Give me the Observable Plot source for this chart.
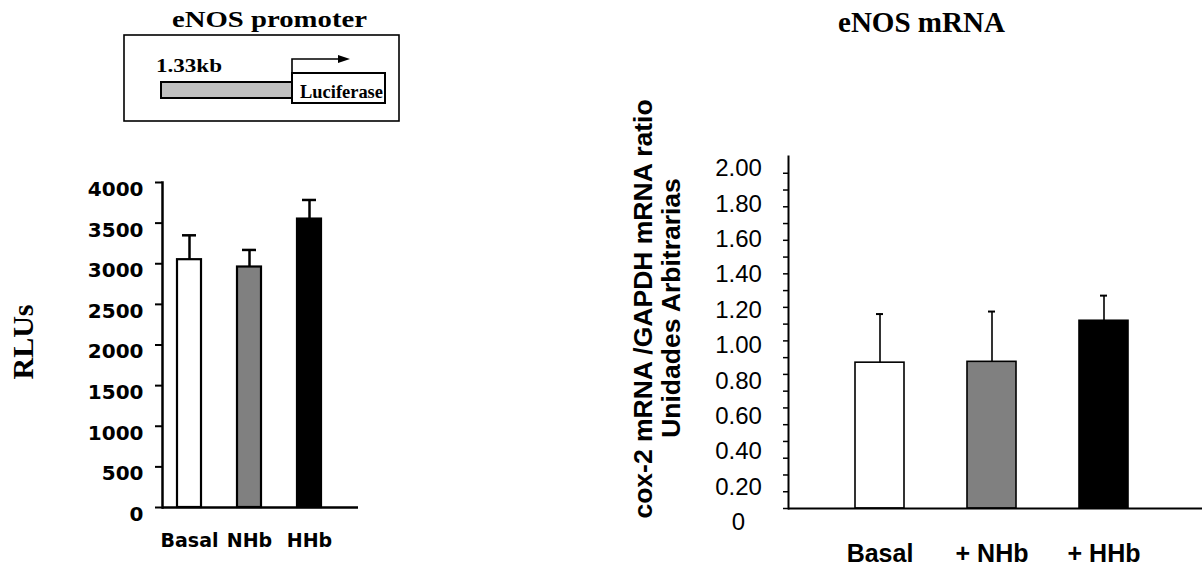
<!DOCTYPE html>
<html><head><meta charset="utf-8">
<script src="https://cdn.jsdelivr.net/npm/d3@7"></script>
<script src="https://cdn.jsdelivr.net/npm/@observablehq/plot@0.6"></script>
<style>
body{margin:0;background:#fff;}
#wrap{position:relative;width:1202px;height:568px;overflow:hidden;background:#fff;}
#wrap > svg{position:absolute;top:0;}
</style></head><body><div id="wrap"></div>
<script>
// ---- data: left panel (eNOS promoter, luciferase) ----
const promoterCategories = ["Basal", "NHb", "HHb"];
const promoterValues = [3050, 2960, 3550];
const promoterErrors = [300, 210, 235];
const promoterTicks = [0, 500, 1000, 1500, 2000, 2500, 3000, 3500, 4000];

// ---- data: right panel (eNOS mRNA) ----
const mrnaCategories = ["Basal", "+ NHb", "+ HHb"];
const mrnaValues = [0.87, 0.875, 1.12];
const mrnaErrors = [0.29, 0.30, 0.15];
const mrnaTickMarks = [0, 0.1, 0.2, 0.3, 0.4, 0.5, 0.6, 0.7, 0.8, 0.9, 1.0, 1.1, 1.2, 1.3, 1.4, 1.5, 1.6, 1.7, 1.8, 1.9, 2.0];
const mrnaLabelValues = [0, 0.2, 0.4, 0.6, 0.8, 1.0, 1.2, 1.4, 1.6, 1.8, 2.0];
const mrnaLabels = ["0", "0.20", "0.40", "0.60", "0.80", "1.00", "1.20", "1.40", "1.60", "1.80", "2.00"];

const barFills = ["white", "#808080", "black"];

const promoter = promoterCategories.map((c, i) => ({cat: c, v: promoterValues[i], top: promoterValues[i] + promoterErrors[i], fill: barFills[i]}));
const mrna = mrnaCategories.map((c, i) => ({cat: c, v: mrnaValues[i], top: mrnaValues[i] + mrnaErrors[i], fill: barFills[i]}));

const wrap = document.getElementById("wrap");

// ---- left plot ----
const left = Plot.plot({
  width: 380, height: 568,
  marginLeft: 162, marginRight: 22, marginTop: 182, marginBottom: 61,
  style: {background: "transparent", fontFamily: "DejaVu Sans", fontWeight: "bold", overflow: "visible", color: "black"},
  x: {domain: promoterCategories, range: [159, 339], paddingInner: 0.6, paddingOuter: 0.3},
  y: {domain: [0, 4000]},
  color: {type: "identity"},
  marks: [
    Plot.barY(promoter, {x: "cat", y: "v", fill: "fill", stroke: "black", strokeWidth: 2.2}),
    Plot.ruleX(promoter, {x: "cat", y1: "v", y2: "top", stroke: "black", strokeWidth: 2.5}),
    Plot.tickY(promoter, {x: "cat", y: "top", stroke: "black", strokeWidth: 2.5, insetLeft: 5, insetRight: 5}),
    Plot.axisY({ticks: promoterTicks, tickSize: 7, tickFormat: () => "", stroke: "black", strokeWidth: 2, label: null}),
    Plot.text(promoterTicks, {y: d => d, text: d => String(d), frameAnchor: "left", textAnchor: "end", dx: -19, dy: 7, fontSize: 20, fontWeight: "bold", fontFamily: "DejaVu Sans", fill: "black"}),
    Plot.axisX({tickSize: 0, tickPadding: 26, fontSize: 19, fontWeight: "bold", fontFamily: "DejaVu Sans", fill: "black", label: null}),
    Plot.ruleY([0], {stroke: "black", strokeWidth: 2.5}),
    Plot.frame({anchor: "left", stroke: "black", strokeWidth: 2.5})
  ]
});
left.style.left = "0px";
wrap.appendChild(left);

// ---- right plot ----
const right = Plot.plot({
  width: 602, height: 568,
  marginLeft: 188, marginRight: 0, marginTop: 156, marginBottom: 60,
  style: {background: "transparent", fontFamily: "Liberation Sans", overflow: "visible", color: "black"},
  x: {domain: mrnaCategories, range: [221, 561.5], paddingInner: 0.56, paddingOuter: 0.3},
  y: {domain: [0, 2.1]},
  color: {type: "identity"},
  marks: [
    Plot.barY(mrna, {x: "cat", y: "v", fill: "fill", stroke: "black", strokeWidth: 1.6}),
    Plot.ruleX(mrna, {x: "cat", y1: "v", y2: "top", stroke: "black", strokeWidth: 1.6}),
    Plot.tickY(mrna, {x: "cat", y: "top", stroke: "black", strokeWidth: 2, insetLeft: 21, insetRight: 21}),
    Plot.axisY({ticks: mrnaTickMarks, tickSize: 5, tickFormat: () => "", stroke: "black", strokeWidth: 1.5, label: null}),
    Plot.axisX({tickSize: 0, tickPadding: 36, fontSize: 25, fontWeight: "bold", fontFamily: "Liberation Sans", fill: "black", label: null}),
    Plot.ruleY([0], {stroke: "black", strokeWidth: 2}),
    Plot.frame({anchor: "left", stroke: "black", strokeWidth: 2})
  ]
});
right.style.left = "600px";
wrap.appendChild(right);

// ---- right tick labels (offset scale, as in the original) ----
const rightLabels = Plot.plot({
  width: 200, height: 568,
  marginLeft: 138, marginRight: 0, marginTop: 168, marginBottom: 46,
  style: {background: "transparent", fontFamily: "Liberation Sans", overflow: "visible", color: "black"},
  y: {domain: [0, 2], axis: null},
  marks: [
    Plot.text(mrnaLabelValues, {y: d => d, text: (d, i) => mrnaLabels[i], frameAnchor: "left", textAnchor: "middle", fontSize: 24, fontFamily: "Liberation Sans", fill: "black"})
  ]
});
rightLabels.style.left = "600px";
wrap.appendChild(rightLabels);

// ---- titles, construct diagram, rotated axis titles ----
const ns = "http://www.w3.org/2000/svg";
const over = document.createElementNS(ns, "svg");
over.setAttribute("width", 1202);
over.setAttribute("height", 568);
over.style.left = "0px";
over.style.pointerEvents = "none";
over.innerHTML = `
<g font-family="Liberation Serif, 'Times New Roman', serif" font-weight="bold" fill="black">
  <text x="172" y="27" font-size="23" textLength="195" lengthAdjust="spacingAndGlyphs">eNOS promoter</text>
  <text x="838" y="32" font-size="28.5" textLength="167" lengthAdjust="spacingAndGlyphs">eNOS mRNA</text>
  <text transform="translate(33,342) rotate(-90)" text-anchor="middle" font-size="30">RLUs</text>
</g>
<rect x="124" y="35" width="275" height="86" fill="none" stroke="black" stroke-width="1.6"/>
<rect x="161" y="82" width="131" height="16" fill="#c0c0c0" stroke="black" stroke-width="2"/>
<rect x="292" y="73" width="93" height="30" fill="white" stroke="black" stroke-width="2"/>
<path d="M292,73V59H339" fill="none" stroke="black" stroke-width="1.6"/>
<polygon points="338,55 350,59 338,63" fill="black"/>
<g font-family="Liberation Serif, 'Times New Roman', serif" font-weight="bold" fill="black">
  <text x="156" y="72" font-size="18" textLength="66" lengthAdjust="spacingAndGlyphs">1.33kb</text>
  <text x="300" y="98" font-size="18" textLength="83" lengthAdjust="spacingAndGlyphs">Luciferase</text>
</g>
<g font-family="Liberation Sans, Arial, sans-serif" font-weight="bold" fill="black" font-size="26.5" text-anchor="middle">
  <text transform="translate(652,309) rotate(-90)">cox-2 mRNA /GAPDH mRNA ratio</text>
  <text transform="translate(680,308) rotate(-90)">Unidades Arbitrarias</text>
</g>`;
wrap.appendChild(over);
</script>
</body></html>
